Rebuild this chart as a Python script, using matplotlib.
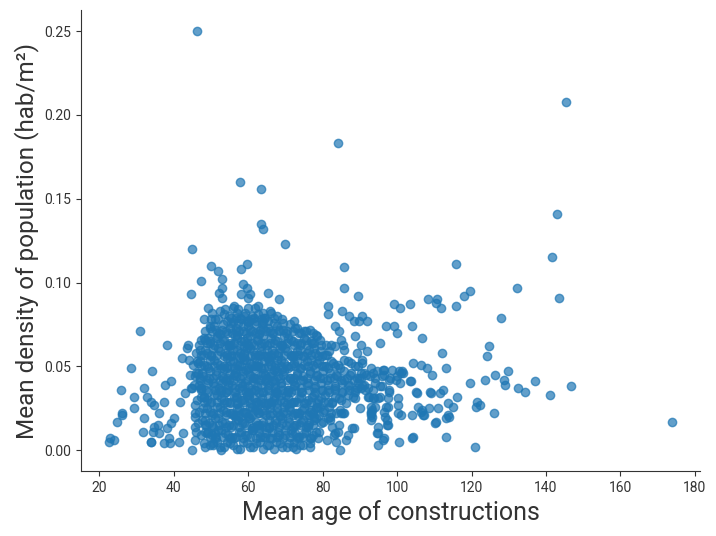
import numpy as np
import matplotlib
matplotlib.use("Agg")
import matplotlib.pyplot as plt

# (mean age of constructions, mean density hab/m2)

# isolated high points
top_points = [
    (46.2, 0.250), (145.4, 0.208), (84.1, 0.183), (57.7, 0.160), (63.4, 0.156),
    (63.4, 0.135), (63.9, 0.132), (143.1, 0.141), (69.8, 0.123), (44.9, 0.120),
    (141.7, 0.115), (115.7, 0.111), (50.0, 0.110), (51.9, 0.107), (52.9, 0.102),
    (47.3, 0.101), (58.0, 0.108), (59.6, 0.111), (85.8, 0.109), (85.6, 0.097),
    (89.5, 0.092), (52.9, 0.097), (58.6, 0.099), (59.8, 0.097), (52.1, 0.094),
    (44.6, 0.093), (58.0, 0.093), (60.4, 0.093), (65.3, 0.094), (68.4, 0.090),
    (52.9, 0.091), (59.9, 0.091), (72.2, 0.077), (69.0, 0.078), (53.7, 0.084),
    (55.9, 0.085), (57.3, 0.084), (60.0, 0.085), (61.8, 0.085), (64.0, 0.082),
]

# right-hand tail
right_points = [
    (132.1, 0.097), (143.6, 0.091), (119.5, 0.095), (118.0, 0.092), (108.2, 0.090),
    (110.6, 0.090), (110.4, 0.088), (111.8, 0.085), (115.7, 0.086), (128.0, 0.079),
    (106.6, 0.067), (124.6, 0.062), (124.1, 0.056), (112.1, 0.058), (113.1, 0.049),
    (108.1, 0.049), (109.3, 0.045), (106.3, 0.051), (126.3, 0.045), (129.9, 0.047),
    (128.6, 0.042), (128.9, 0.039), (123.5, 0.042), (119.5, 0.040), (137.0, 0.041),
    (132.4, 0.037), (134.3, 0.035), (141.2, 0.033), (146.8, 0.038), (108.8, 0.035),
    (109.2, 0.034), (112.3, 0.036), (111.5, 0.034), (116.0, 0.032), (113.7, 0.028),
    (115.0, 0.026), (121.6, 0.029), (122.3, 0.027), (121.3, 0.026), (126.0, 0.022),
    (111.0, 0.025), (108.5, 0.025), (106.8, 0.024), (107.2, 0.021), (113.9, 0.020),
    (113.1, 0.019), (110.5, 0.017), (113.1, 0.008), (120.9, 0.002), (173.9, 0.017),
    (99.2, 0.087), (100.8, 0.085), (103.4, 0.087), (97.1, 0.074), (99.1, 0.074),
    (100.1, 0.070), (104.0, 0.074), (104.3, 0.052), (103.8, 0.041), (105.3, 0.034),
    (104.3, 0.008), (100.6, 0.005), (104.1, 0.021), (106.4, 0.023), (107.0, 0.021),
    (110.3, 0.016), (113.8, 0.021), (100.3, 0.027), (100.3, 0.022), (101.1, 0.021),
    (103.5, 0.041), (105.1, 0.035), (105.7, 0.026), (103.9, 0.007),
]

# band between 80 and 100 years
band_points = [
    (81.5, 0.086), (81.5, 0.081), (85.2, 0.083), (87.2, 0.080), (88.5, 0.077),
    (90.5, 0.080), (89.8, 0.077), (91.9, 0.077), (95.4, 0.064), (88.7, 0.068),
    (90.3, 0.063), (91.9, 0.059), (89.2, 0.058), (90.7, 0.054), (96.5, 0.048),
    (98.5, 0.048), (100.4, 0.047), (101.3, 0.047), (100.1, 0.044), (99.8, 0.042),
    (100.7, 0.040), (94.9, 0.003), (84.6, 0.000), (96.2, 0.006), (94.6, 0.010),
    (88.0, 0.013), (88.4, 0.013), (86.8, 0.009), (86.3, 0.006), (83.2, 0.010),
    (83.6, 0.005), (81.2, 0.006), (82.5, 0.014), (84.3, 0.015), (84.0, 0.011),
    (82.0, 0.020), (82.0, 0.018), (95.0, 0.014), (97.3, 0.015), (96.7, 0.020),
    (97.2, 0.018), (93.1, 0.022), (92.9, 0.021), (93.2, 0.024), (90.1, 0.025),
    (85.4, 0.022), (84.7, 0.024), (96.9, 0.026), (96.5, 0.023), (92.9, 0.026),
    (94.0, 0.026), (94.9, 0.031), (95.4, 0.032), (92.4, 0.032), (93.5, 0.031),
    (90.2, 0.037), (89.4, 0.040), (83.4, 0.074), (84.5, 0.071), (84.8, 0.066),
    (85.4, 0.063), (83.3, 0.062), (82.3, 0.063), (85.8, 0.060), (90.5, 0.052),
    (90.2, 0.046), (92.9, 0.049), (93.5, 0.046), (96.3, 0.048), (101.0, 0.046),
    (101.7, 0.046), (92.1, 0.032), (93.9, 0.031), (97.5, 0.031), (100.2, 0.031),
    (97.5, 0.026), (92.9, 0.023), (93.2, 0.020), (92.9, 0.018), (97.5, 0.015),
    (94.9, 0.010), (96.5, 0.007), (83.1, 0.009), (84.9, 0.022), (85.8, 0.022),
    (76.1, 0.015), (76.5, 0.004), (78.3, 0.011), (78.7, 0.007), (72.5, 0.010),
    (72.0, 0.002), (77.8, 0.020), (79.2, 0.026), (76.9, 0.024),
]

# sparse left side
left_points = [
    (31.0, 0.071), (38.3, 0.063), (28.5, 0.049), (34.2, 0.047), (25.8, 0.036),
    (32.0, 0.037), (29.3, 0.032), (29.2, 0.025), (26.0, 0.022), (26.2, 0.021),
    (24.7, 0.017), (31.9, 0.019), (31.8, 0.011), (22.9, 0.007), (24.0, 0.006),
    (22.6, 0.005), (33.8, 0.005), (34.0, 0.005), (37.3, 0.004), (38.7, 0.007),
    (38.9, 0.004), (41.5, 0.005), (42.6, 0.010), (44.9, 0.000), (34.6, 0.014),
    (35.7, 0.015), (34.4, 0.011), (36.1, 0.010), (38.1, 0.013), (39.3, 0.016),
    (40.0, 0.019), (36.0, 0.022), (32.8, 0.032), (33.8, 0.029), (34.7, 0.027),
    (37.3, 0.029), (37.7, 0.039), (39.2, 0.041), (41.7, 0.029), (42.2, 0.055),
    (44.1, 0.054), (43.7, 0.063), (43.5, 0.061), (44.3, 0.045), (44.6, 0.037),
    (43.0, 0.034), (45.7, 0.027), (45.7, 0.022), (45.7, 0.020), (45.7, 0.014),
    (45.9, 0.011), (45.7, 0.006), (48.1, 0.078), (49.2, 0.085), (50.3, 0.082),
    (50.0, 0.078), (49.8, 0.073), (46.9, 0.063), (47.2, 0.057), (48.3, 0.066),
    (49.1, 0.067), (46.5, 0.052), (46.6, 0.046), (47.0, 0.042), (47.4, 0.037),
    (48.0, 0.032), (48.3, 0.015), (49.0, 0.010), (48.1, 0.004), (48.5, 0.002),
    (50.6, 0.003), (51.0, 0.010), (52.7, 0.000),
]

# dense core around 45-80 years (first pass)
core_points = [
    (52.4, 0.083), (54.7, 0.080), (56.1, 0.086), (57.9, 0.079), (59.2, 0.082),
    (61.1, 0.080), (62.7, 0.086), (64.4, 0.079), (65.9, 0.083), (67.6, 0.080),
    (55.4, 0.076), (60.3, 0.077), (63.6, 0.075), (69.3, 0.076), (51.1, 0.078),
    (48.4, 0.071), (50.7, 0.074), (53.0, 0.072), (54.3, 0.070), (56.8, 0.073),
    (58.5, 0.071), (59.9, 0.074), (61.8, 0.070), (63.1, 0.072), (65.2, 0.073),
    (66.6, 0.070), (68.2, 0.072), (70.4, 0.071), (72.6, 0.073), (74.3, 0.070),
    (76.7, 0.072), (78.2, 0.069), (57.3, 0.076), (62.2, 0.077), (66.9, 0.076),
    (47.2, 0.066), (49.6, 0.064), (51.5, 0.067), (53.3, 0.065), (54.9, 0.063),
    (56.4, 0.068), (58.1, 0.065), (59.7, 0.067), (61.0, 0.064), (62.6, 0.066),
    (64.1, 0.068), (65.8, 0.064), (67.3, 0.066), (69.0, 0.063), (70.6, 0.067),
    (72.1, 0.065), (73.8, 0.063), (75.5, 0.066), (77.2, 0.064), (79.4, 0.066),
    (81.0, 0.063),
    (46.0, 0.058), (48.3, 0.060), (50.1, 0.057), (51.9, 0.061), (53.7, 0.058),
    (55.5, 0.056), (57.0, 0.060), (58.8, 0.058), (60.5, 0.061), (61.9, 0.057),
    (63.5, 0.059), (65.0, 0.056), (66.5, 0.060), (68.1, 0.058), (69.8, 0.061),
    (71.4, 0.057), (73.0, 0.059), (74.8, 0.056), (76.3, 0.060), (78.0, 0.058),
    (79.8, 0.056), (81.7, 0.059),
    (45.2, 0.051), (47.1, 0.053), (48.9, 0.050), (50.8, 0.054), (52.5, 0.051),
    (54.2, 0.049), (55.9, 0.053), (57.6, 0.051), (59.3, 0.054), (60.9, 0.050),
    (62.5, 0.052), (64.2, 0.049), (65.6, 0.053), (67.2, 0.051), (68.8, 0.054),
    (70.5, 0.050), (72.2, 0.052), (73.9, 0.049), (75.7, 0.053), (77.4, 0.051),
    (79.1, 0.054), (80.8, 0.050), (82.7, 0.052), (84.7, 0.049), (86.9, 0.053),
    (88.7, 0.050),
    (45.8, 0.044), (47.7, 0.046), (49.5, 0.043), (51.3, 0.047), (53.0, 0.044),
    (54.7, 0.042), (56.5, 0.046), (58.2, 0.044), (60.0, 0.047), (61.6, 0.043),
    (63.3, 0.045), (64.9, 0.042), (66.4, 0.046), (68.0, 0.044), (69.7, 0.047),
    (71.3, 0.043), (73.1, 0.045), (74.8, 0.042), (76.6, 0.046), (78.3, 0.044),
    (80.1, 0.047), (81.9, 0.043), (83.7, 0.045), (85.8, 0.042), (87.7, 0.046),
    (89.8, 0.043), (91.6, 0.045), (94.1, 0.043), (96.0, 0.044), (97.9, 0.042),
    (45.0, 0.037), (46.8, 0.039), (48.6, 0.036), (50.4, 0.040), (52.2, 0.037),
    (53.9, 0.035), (55.6, 0.039), (57.4, 0.037), (59.1, 0.040), (60.8, 0.036),
    (62.4, 0.038), (64.0, 0.035), (65.5, 0.039), (67.1, 0.037), (68.9, 0.040),
    (70.6, 0.036), (72.3, 0.038), (74.1, 0.035), (75.9, 0.039), (77.7, 0.037),
    (79.5, 0.040), (81.3, 0.036), (83.2, 0.038), (85.1, 0.035), (87.2, 0.039),
    (89.1, 0.037), (91.2, 0.039), (93.4, 0.036), (95.5, 0.038), (97.7, 0.035),
    (46.3, 0.030), (48.1, 0.032), (49.9, 0.029), (51.7, 0.033), (53.5, 0.030),
    (55.2, 0.028), (56.9, 0.032), (58.6, 0.030), (60.3, 0.033), (62.0, 0.029),
    (63.7, 0.031), (65.3, 0.028), (66.9, 0.032), (68.6, 0.030), (70.2, 0.033),
    (71.9, 0.029), (73.6, 0.031), (75.4, 0.028), (77.1, 0.032), (78.8, 0.030),
    (80.5, 0.033), (82.4, 0.029), (84.3, 0.031), (86.4, 0.028), (88.2, 0.032),
    (46.9, 0.023), (48.8, 0.025), (50.6, 0.022), (52.4, 0.026), (54.1, 0.023),
    (55.8, 0.021), (57.5, 0.025), (59.2, 0.023), (60.9, 0.026), (62.6, 0.022),
    (64.3, 0.024), (65.9, 0.021), (67.6, 0.025), (69.3, 0.023), (71.0, 0.026),
    (72.7, 0.022), (74.5, 0.024), (76.3, 0.021), (78.1, 0.025), (80.0, 0.023),
    (81.7, 0.026), (83.7, 0.022),
    (46.5, 0.016), (48.4, 0.018), (50.2, 0.015), (52.0, 0.019), (53.8, 0.016),
    (55.5, 0.014), (57.2, 0.018), (58.9, 0.016), (60.6, 0.019), (62.3, 0.015),
    (64.0, 0.017), (65.6, 0.014), (67.3, 0.018), (69.0, 0.016), (70.7, 0.019),
    (72.4, 0.015), (74.2, 0.017), (76.0, 0.014), (77.8, 0.018), (79.6, 0.016),
    (81.4, 0.019),
    (47.3, 0.009), (49.2, 0.011), (51.0, 0.008), (52.8, 0.012), (54.6, 0.009),
    (56.3, 0.007), (58.0, 0.011), (59.7, 0.009), (61.4, 0.012), (63.1, 0.008),
    (64.7, 0.010), (66.4, 0.007), (68.1, 0.011), (69.8, 0.009), (71.5, 0.012),
    (73.3, 0.008), (75.1, 0.010), (77.0, 0.007), (78.9, 0.011),
    (49.7, 0.003), (51.6, 0.005), (53.4, 0.002), (55.2, 0.004), (56.9, 0.001),
    (58.7, 0.005), (60.4, 0.002), (62.2, 0.004), (63.9, 0.001), (65.6, 0.003),
    (67.4, 0.005), (69.2, 0.002), (71.0, 0.004), (72.8, 0.001), (74.7, 0.003),
    (76.6, 0.002),
    (54.9, 0.062), (57.7, 0.055), (59.4, 0.048), (61.4, 0.041), (62.9, 0.034),
    (64.7, 0.027), (56.2, 0.045), (58.4, 0.038), (60.1, 0.031), (61.9, 0.024),
    (63.4, 0.062), (65.4, 0.055), (66.8, 0.048), (61.7, 0.055), (58.9, 0.062),
    (57.1, 0.069), (66.3, 0.041), (67.8, 0.034), (54.4, 0.055), (52.9, 0.040),
    (57.9, 0.020), (60.9, 0.013), (56.7, 0.032), (64.4, 0.045), (62.7, 0.050),
]

# dense core, points sitting between the first pass
core_fill = [
    (53.5, 0.081), (55.3, 0.079), (57.1, 0.082), (58.9, 0.080), (60.7, 0.078),
    (62.5, 0.081), (64.3, 0.079), (66.1, 0.082),
    (49.6, 0.074), (51.4, 0.072), (53.2, 0.075), (55.0, 0.073), (56.8, 0.071),
    (58.6, 0.074), (60.4, 0.072), (62.2, 0.075), (64.0, 0.073), (65.8, 0.071),
    (67.6, 0.074), (69.4, 0.072), (71.2, 0.075), (73.0, 0.073), (75.0, 0.071),
    (48.0, 0.067), (49.8, 0.065), (51.6, 0.068), (53.4, 0.066), (55.2, 0.064),
    (57.0, 0.067), (58.8, 0.065), (60.6, 0.068), (62.4, 0.066), (64.2, 0.064),
    (66.0, 0.067), (67.8, 0.065), (69.6, 0.068), (71.4, 0.066), (73.2, 0.064),
    (75.0, 0.067), (76.8, 0.065), (78.6, 0.068),
    (47.0, 0.060), (48.8, 0.058), (50.6, 0.061), (52.4, 0.059), (54.2, 0.057),
    (56.0, 0.060), (57.8, 0.058), (59.6, 0.061), (61.4, 0.059), (63.2, 0.057),
    (65.0, 0.060), (66.8, 0.058), (68.6, 0.061), (70.4, 0.059), (72.2, 0.057),
    (74.0, 0.060), (75.8, 0.058), (77.6, 0.061), (79.4, 0.059), (81.2, 0.057),
    (46.2, 0.053), (48.0, 0.051), (49.8, 0.054), (51.6, 0.052), (53.4, 0.050),
    (55.2, 0.053), (57.0, 0.051), (58.8, 0.054), (60.6, 0.052), (62.4, 0.050),
    (64.2, 0.053), (66.0, 0.051), (67.8, 0.054), (69.6, 0.052), (71.4, 0.050),
    (73.2, 0.053), (75.0, 0.051), (76.8, 0.054), (78.6, 0.052), (80.4, 0.050),
    (82.2, 0.053), (84.0, 0.051), (85.8, 0.054), (87.6, 0.052), (89.4, 0.050),
    (46.0, 0.046), (47.8, 0.044), (49.6, 0.047), (51.4, 0.045), (53.2, 0.043),
    (55.0, 0.046), (56.8, 0.044), (58.6, 0.047), (60.4, 0.045), (62.2, 0.043),
    (64.0, 0.046), (65.8, 0.044), (67.6, 0.047), (69.4, 0.045), (71.2, 0.043),
    (73.0, 0.046), (74.8, 0.044), (76.6, 0.047), (78.4, 0.045), (80.2, 0.043),
    (82.0, 0.046), (83.8, 0.044), (85.6, 0.047), (87.4, 0.045), (89.2, 0.043),
    (91.0, 0.046), (92.8, 0.044), (94.6, 0.047), (96.4, 0.045), (98.2, 0.043),
    (45.5, 0.039), (47.3, 0.037), (49.1, 0.040), (50.9, 0.038), (52.7, 0.036),
    (54.5, 0.039), (56.3, 0.037), (58.1, 0.040), (59.9, 0.038), (61.7, 0.036),
    (63.5, 0.039), (65.3, 0.037), (67.1, 0.040), (68.9, 0.038), (70.7, 0.036),
    (72.5, 0.039), (74.3, 0.037), (76.1, 0.040), (77.9, 0.038), (79.7, 0.036),
    (81.5, 0.039), (83.3, 0.037), (85.1, 0.040), (86.9, 0.038), (88.7, 0.036),
    (90.5, 0.039), (92.3, 0.037), (94.1, 0.040), (95.9, 0.038), (97.7, 0.036),
    (47.2, 0.032), (49.0, 0.030), (50.8, 0.033), (52.6, 0.031), (54.4, 0.029),
    (56.2, 0.032), (58.0, 0.030), (59.8, 0.033), (61.6, 0.031), (63.4, 0.029),
    (65.2, 0.032), (67.0, 0.030), (68.8, 0.033), (70.6, 0.031), (72.4, 0.029),
    (74.2, 0.032), (76.0, 0.030), (77.8, 0.033), (79.6, 0.031), (81.4, 0.029),
    (83.2, 0.032), (85.0, 0.030), (86.8, 0.033), (88.8, 0.031),
    (47.9, 0.025), (49.7, 0.023), (51.5, 0.026), (53.3, 0.024), (55.1, 0.022),
    (56.9, 0.025), (58.7, 0.023), (60.5, 0.026), (62.3, 0.024), (64.1, 0.022),
    (65.9, 0.025), (67.7, 0.023), (69.5, 0.026), (71.3, 0.024), (73.1, 0.022),
    (74.9, 0.025), (76.7, 0.023), (78.5, 0.026), (80.3, 0.024), (82.2, 0.022),
    (47.6, 0.018), (49.4, 0.016), (51.2, 0.019), (53.0, 0.017), (54.8, 0.015),
    (56.6, 0.018), (58.4, 0.016), (60.2, 0.019), (62.0, 0.017), (63.8, 0.015),
    (65.6, 0.018), (67.4, 0.016), (69.2, 0.019), (71.0, 0.017), (72.8, 0.015),
    (74.6, 0.018), (76.4, 0.016), (78.2, 0.019), (80.1, 0.017),
    (48.4, 0.011), (50.2, 0.009), (52.0, 0.012), (53.8, 0.010), (55.6, 0.008),
    (57.4, 0.011), (59.2, 0.009), (61.0, 0.012), (62.8, 0.010), (64.6, 0.008),
    (66.4, 0.011), (68.2, 0.009), (70.0, 0.012), (71.8, 0.010), (73.6, 0.008),
    (75.4, 0.011), (77.4, 0.009),
    (50.6, 0.004), (52.4, 0.002), (54.2, 0.005), (56.0, 0.003), (57.8, 0.001),
    (59.6, 0.004), (61.4, 0.002), (63.2, 0.005), (65.0, 0.003), (66.8, 0.001),
    (68.6, 0.004), (70.4, 0.002), (72.2, 0.005), (74.0, 0.003),
    (52.5, 0.0695), (55.5, 0.0625), (58.5, 0.0555), (61.5, 0.0485), (64.5, 0.0415),
    (67.5, 0.0345), (70.5, 0.0275), (73.5, 0.0205), (54.0, 0.0345), (57.0, 0.0275),
    (60.0, 0.0205), (63.0, 0.0135), (66.0, 0.0555), (69.0, 0.0485), (72.0, 0.0415),
    (63.0, 0.0695), (60.0, 0.0625), (57.0, 0.0485), (54.0, 0.0415), (66.0, 0.0275),
    (69.0, 0.0625), (72.0, 0.0555), (59.5, 0.0345), (62.5, 0.0275), (56.5, 0.0205),
    (65.5, 0.0135), (68.5, 0.0205), (71.5, 0.0345), (53.5, 0.0485), (56.0, 0.0765),
    (60.0, 0.0765), (64.0, 0.0765),
]

# heaviest part of the core, third pass
core_heavy = [
    (52.0, 0.078), (54.2, 0.077), (56.6, 0.079), (58.0, 0.078), (59.8, 0.077),
    (61.6, 0.079), (63.4, 0.078), (65.2, 0.077), (67.0, 0.079),
    (50.3, 0.071), (52.1, 0.070), (53.9, 0.071), (55.7, 0.070), (57.5, 0.071),
    (59.3, 0.070), (61.1, 0.071), (62.9, 0.070), (64.7, 0.071), (66.5, 0.070),
    (68.3, 0.071), (70.1, 0.070), (71.9, 0.071), (73.7, 0.070), (75.5, 0.071),
    (77.3, 0.070),
    (48.9, 0.064), (50.7, 0.063), (52.5, 0.064), (54.3, 0.063), (56.1, 0.064),
    (57.9, 0.063), (59.7, 0.064), (61.5, 0.063), (63.3, 0.064), (65.1, 0.063),
    (66.9, 0.064), (68.7, 0.063), (70.5, 0.064), (72.3, 0.063), (74.1, 0.064),
    (75.9, 0.063), (77.7, 0.064), (79.5, 0.063),
    (48.1, 0.057), (49.9, 0.056), (51.7, 0.057), (53.5, 0.056), (55.3, 0.057),
    (57.1, 0.056), (58.9, 0.057), (60.7, 0.056), (62.5, 0.057), (64.3, 0.056),
    (66.1, 0.057), (67.9, 0.056), (69.7, 0.057), (71.5, 0.056), (73.3, 0.057),
    (75.1, 0.056), (76.9, 0.057), (78.7, 0.056), (80.5, 0.057),
    (47.3, 0.050), (49.1, 0.049), (50.9, 0.050), (52.7, 0.049), (54.5, 0.050),
    (56.3, 0.049), (58.1, 0.050), (59.9, 0.049), (61.7, 0.050), (63.5, 0.049),
    (65.3, 0.050), (67.1, 0.049), (68.9, 0.050), (70.7, 0.049), (72.5, 0.050),
    (74.3, 0.049), (76.1, 0.050), (77.9, 0.049), (79.7, 0.050), (81.5, 0.049),
    (83.3, 0.050),
    (47.0, 0.043), (48.8, 0.042), (50.6, 0.043), (52.4, 0.042), (54.2, 0.043),
    (56.0, 0.042), (57.8, 0.043), (59.6, 0.042), (61.4, 0.043), (63.2, 0.042),
    (65.0, 0.043), (66.8, 0.042), (68.6, 0.043), (70.4, 0.042), (72.2, 0.043),
    (74.0, 0.042), (75.8, 0.043), (77.6, 0.042), (79.4, 0.043), (81.2, 0.042),
    (83.0, 0.043), (84.8, 0.042), (86.6, 0.043), (88.4, 0.042), (90.2, 0.043),
    (47.4, 0.036), (49.2, 0.035), (51.0, 0.036), (52.8, 0.035), (54.6, 0.036),
    (56.4, 0.035), (58.2, 0.036), (60.0, 0.035), (61.8, 0.036), (63.6, 0.035),
    (65.4, 0.036), (67.2, 0.035), (69.0, 0.036), (70.8, 0.035), (72.6, 0.036),
    (74.4, 0.035), (76.2, 0.036), (78.0, 0.035), (79.8, 0.036), (81.6, 0.035),
    (83.4, 0.036), (85.2, 0.035), (87.0, 0.036), (88.8, 0.035), (91.5, 0.036),
    (48.0, 0.029), (49.8, 0.028), (51.6, 0.029), (53.4, 0.028), (55.2, 0.029),
    (57.0, 0.028), (58.8, 0.029), (60.6, 0.028), (62.4, 0.029), (64.2, 0.028),
    (66.0, 0.029), (67.8, 0.028), (69.6, 0.029), (71.4, 0.028), (73.2, 0.029),
    (75.0, 0.028), (76.8, 0.029), (78.6, 0.028), (80.4, 0.029), (82.6, 0.028),
    (48.5, 0.022), (50.3, 0.021), (52.1, 0.022), (53.9, 0.021), (55.7, 0.022),
    (57.5, 0.021), (59.3, 0.022), (61.1, 0.021), (62.9, 0.022), (64.7, 0.021),
    (66.5, 0.022), (68.3, 0.021), (70.1, 0.022), (71.9, 0.021), (73.7, 0.022),
    (75.5, 0.021), (77.3, 0.022), (79.1, 0.021),
    (48.6, 0.015), (50.4, 0.014), (52.2, 0.015), (54.0, 0.014), (55.8, 0.015),
    (57.6, 0.014), (59.4, 0.015), (61.2, 0.014), (63.0, 0.015), (64.8, 0.014),
    (66.6, 0.015), (68.4, 0.014), (70.2, 0.015), (72.0, 0.014), (73.8, 0.015),
    (75.6, 0.014), (77.4, 0.015),
    (49.6, 0.008), (51.4, 0.007), (53.2, 0.008), (55.0, 0.007), (56.8, 0.008),
    (58.6, 0.007), (60.4, 0.008), (62.2, 0.007), (64.0, 0.008), (65.8, 0.007),
    (67.6, 0.008), (69.4, 0.007), (71.2, 0.008), (73.0, 0.007), (74.8, 0.008),
    (76.6, 0.007),
]

all_points = (top_points + right_points + band_points + left_points
              + core_points + core_fill + core_heavy)
age = np.array([p[0] for p in all_points])
density = np.array([p[1] for p in all_points])

plt.rcParams['font.family'] = ['Roboto', 'DejaVu Sans']

fig, ax = plt.subplots(figsize=(7.16, 5.36), dpi=100)
fig.subplots_adjust(left=0.113, right=0.978, bottom=0.121, top=0.981)

ax.scatter(age, density, s=36, color='#1f77b4', alpha=0.7)

ax.set_xlabel('Mean age of constructions', fontsize=18, color='#333333')
ax.set_ylabel('Mean density of population (hab/m²)', fontsize=17.5, color='#333333')
ax.set_xticks([20, 40, 60, 80, 100, 120, 140, 160, 180])
ax.set_yticks([0.00, 0.05, 0.10, 0.15, 0.20, 0.25])
ax.tick_params(labelsize=10, colors='#333333')

for side in ['top', 'right']:
    ax.spines[side].set_visible(False)
for side in ['left', 'bottom']:
    ax.spines[side].set_color('#333333')

fig.savefig('out.png', dpi=100)
